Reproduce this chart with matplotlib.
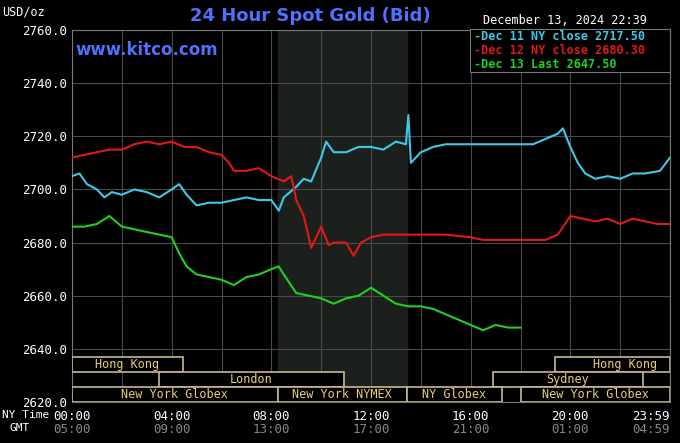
import matplotlib
matplotlib.use("Agg")
import matplotlib.pyplot as plt
from matplotlib.patches import Rectangle

dec11_t = [0,0.3,0.6,1,1.3,1.6,2,2.5,3,3.5,4,4.3,4.6,5,5.5,6,6.5,7,7.5,8,8.3,8.5,9,9.3,9.6,10,10.2,10.5,11,11.5,12,12.5,13,13.4,13.5,13.6,14,14.5,15,16,17,18,18.5,19,19.5,19.7,20,20.3,20.6,21,21.5,22,22.5,23,23.6,24]
dec11_v = [2705,2706,2702,2700,2697,2699,2698,2700,2699,2697,2700,2702,2698,2694,2695,2695,2696,2697,2696,2696,2692,2697,2701,2704,2703,2712,2718,2714,2714,2716,2716,2715,2718,2717,2728,2710,2714,2716,2717,2717,2717,2717,2717,2719,2721,2723,2716,2710,2706,2704,2705,2704,2706,2706,2707,2712]
dec12_t = [0,0.5,1,1.5,2,2.5,3,3.5,4,4.5,5,5.5,6,6.3,6.5,7,7.5,8,8.5,8.8,9,9.3,9.6,10,10.3,10.5,11,11.3,11.6,12,12.5,13,14,15,16,16.5,17,18,19,19.5,20,20.5,21,21.5,22,22.5,23,23.5,24]
dec12_v = [2712,2713,2714,2715,2715,2717,2718,2717,2718,2716,2716,2714,2713,2710,2707,2707,2708,2705,2703,2705,2696,2690,2678,2686,2679,2680,2680,2675,2680,2682,2683,2683,2683,2683,2682,2681,2681,2681,2681,2683,2690,2689,2688,2689,2687,2689,2688,2687,2687]
dec13_t = [0,0.5,1,1.5,2,2.5,3,3.5,4,4.3,4.6,5,5.5,6,6.5,7,7.5,8,8.3,8.5,9,9.5,10,10.5,11,11.5,12,12.5,13,13.5,14,14.5,15,15.5,16,16.5,17,17.5,18]
dec13_v = [2686,2686,2687,2690,2686,2685,2684,2683,2682,2676,2671,2668,2667,2666,2664,2667,2668,2670,2671,2668,2661,2660,2659,2657,2659,2660,2663,2660,2657,2656,2656,2655,2653,2651,2649,2647,2649,2648,2648]

series = [("Dec 11 NY close 2717.50", "#40c8e8", dec11_t, dec11_v),
          ("Dec 12 NY close 2680.30", "#e01818", dec12_t, dec12_v),
          ("Dec 13 Last 2647.50", "#20d020", dec13_t, dec13_v)]

y_ticks = [2620,2640,2660,2680,2700,2720,2740,2760]
x_ticks = [0,4,8,12,16,20,24]
ny_labels = ["00:00","04:00","08:00","12:00","16:00","20:00","23:59"]
gmt_labels = ["05:00","09:00","13:00","17:00","21:00","01:00","04:59"]
sessions = [("Hong Kong",0,4.45,0,False),("Hong Kong",19.4,24,0,True),
            ("London",3.5,10.9,1,False),("Sydney",16.9,22.9,1,True),
            ("New York Globex",0,8.25,2,False),("New York NYMEX",8.25,13.45,2,False),
            ("NY Globex",13.45,17.25,2,False),("New York Globex",18,24,2,True)]

mono = "DejaVu Sans Mono"
fig = plt.figure(figsize=(6.8,4.43), dpi=100, facecolor="black")
ax = fig.add_axes([72/680, 41/443, 598/680, 372/443], facecolor="black")
ax.set_xlim(0,24); ax.set_ylim(2620,2760)
ax.axvspan(8.25,13.45,color="#1c201c",zorder=0)
for h in range(0,25,2):
    ax.axvline(h,color="#4a4a4a",lw=0.8,zorder=1)
for y in y_ticks:
    ax.axhline(y,color="#4a4a4a",lw=0.8,zorder=1)
for lab,c,t,v in series:
    ax.plot(t,v,color=c,lw=1.5,zorder=3)
rowh = 140/372*15
for name,s,e,row,right in sessions:
    y0 = 2620 + (2-row)*rowh
    ax.add_patch(Rectangle((s,y0),e-s,rowh,facecolor="black",edgecolor="#c8b890",lw=1.2,zorder=4))
    xt = (s+e)/2 + (0.5 if (right and name=="Hong Kong") else 0)
    ax.text(xt, y0+rowh/2, name, color="#e8d070", fontsize=8.5, family=mono,
            ha="center", va="center", zorder=5)
ax.set_yticks(y_ticks)
ax.set_yticklabels([f"{y:.1f}" for y in y_ticks], color="white", family=mono, fontsize=9)
ax.set_xticks(x_ticks); ax.set_xticklabels([])
ax.tick_params(length=0)
for s in ax.spines.values(): s.set_color("#777777")
for i,(x,a,b) in enumerate(zip(x_ticks,ny_labels,gmt_labels)):
    ha = "right" if i == len(x_ticks)-1 else "center"
    ax.text(x,2617,a,color="white",family=mono,fontsize=9,ha=ha,va="top",clip_on=False)
    ax.text(x,2612,b,color="#888888",family=mono,fontsize=9,ha=ha,va="top",clip_on=False)
fig.text(2/680,1-415/443,"NY Time",color="white",family=mono,fontsize=8,va="center")
fig.text(10/680,1-428/443,"GMT",color="white",family=mono,fontsize=8,va="center")
fig.text(2/680,1-12/443,"USD/oz",color="white",family=mono,fontsize=8.5,va="center")
fig.text(310/680,1-16/443,"24 Hour Spot Gold (Bid)",color="#5070ff",fontsize=13,fontweight="bold",ha="center",va="center")
fig.text(75/680,1-50/443,"www.kitco.com",color="#5070ff",fontsize=12,fontweight="bold",va="center")
fig.text(483/680,1-21/443,"December 13, 2024 22:39",color="white",family=mono,fontsize=8.5,va="center")
fig.patches.append(Rectangle((470/680,1-72/443),200/680,43/443,transform=fig.transFigure,
                             facecolor="black",edgecolor="#777777",lw=0.8,zorder=5))
for i,(lab,c,t,v) in enumerate(series):
    fig.text(474/680,1-(36+14*i)/443,"-"+lab,color=c,family=mono,fontsize=8.5,fontweight="bold",va="center",zorder=6)
fig.savefig("out.png",dpi=100,facecolor="black")
